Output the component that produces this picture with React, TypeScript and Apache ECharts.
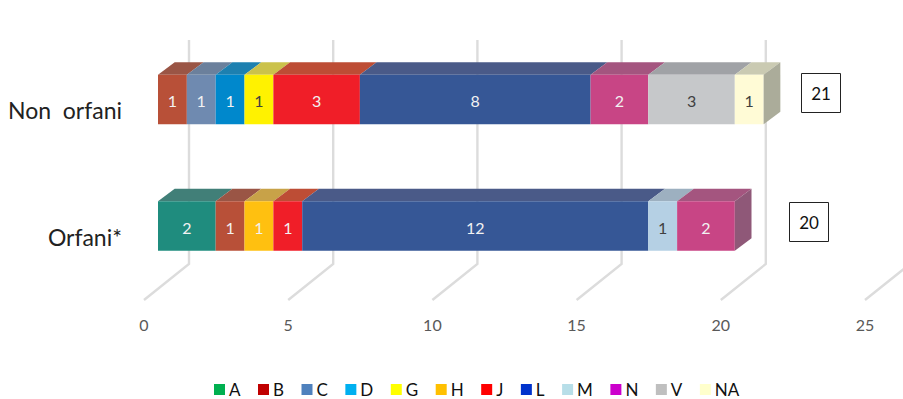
import React, { useEffect, useRef } from "react";
import * as echarts from "echarts";

const FONT = "Lato, 'Open Sans', sans-serif";

const categories = ["Non  orfani", "Orfani*"];
const totals = [21, 20];
const ticks = [0, 5, 10, 15, 20, 25];

const codes = ["A", "B", "C", "D", "G", "H", "J", "L", "M", "N", "V", "NA"];
const valuesA = [0, 2];
const valuesB = [1, 1];
const valuesC = [1, 0];
const valuesD = [1, 0];
const valuesG = [1, 0];
const valuesH = [0, 1];
const valuesJ = [3, 1];
const valuesL = [8, 12];
const valuesM = [0, 1];
const valuesN = [2, 2];
const valuesV = [3, 0];
const valuesNA = [1, 0];
const seriesValues = [valuesA, valuesB, valuesC, valuesD, valuesG, valuesH, valuesJ, valuesL, valuesM, valuesN, valuesV, valuesNA];

const legendColors = ["#00B050", "#C00000", "#4F81BD", "#00B0F0", "#FFFF00", "#FFC000", "#FF0000", "#0033CC", "#B7DEE8", "#CC00CC", "#BFBFBF", "#FFFFCC"];
const frontColors = ["#1F8C7E", "#B85038", "#6F8AB0", "#0088CC", "#FFF200", "#FFC010", "#F01E28", "#365796", "#B5D0E4", "#C84585", "#C6C8CA", "#FFFBD6"];
const topColors = ["#417F78", "#9A5545", "#6B809C", "#1D80B0", "#CBC24B", "#C8A248", "#BD4D35", "#4A5A88", "#9DB0C0", "#A4557F", "#A0A2A6", "#CACAB2"];
const sideColors = ["#2F7068", "#8A4030", "#55708F", "#106A98", "#B0A830", "#B09030", "#A04030", "#2A4070", "#90A8B8", "#8F5878", "#909298", "#ABAC9A"];
const labelColors = ["#F2F2F2", "#F2F2F2", "#F2F2F2", "#F2F2F2", "#404040", "#F2F2F2", "#F2F2F2", "#F2F2F2", "#404040", "#F2F2F2", "#404040", "#404040"];

// Projection of the pseudo-3D bars relative to the floor's front edge.
const BAR_DX = 14;
const BAR_DY = -10.75;
const BAR_HALF = 24.75;
const DEPTH_X = 16.7;
const DEPTH_Y = 12.5;
const WALL_DX = 45;
const WALL_DY = 36;
const WALL_TOP = 40;

function stackedData(index: number) {
  const rows: number[][] = [];
  categories.forEach((_, cat) => {
    const value = seriesValues[index][cat];
    if (!value) return;
    let start = 0;
    for (let i = 0; i < index; i++) start += seriesValues[i][cat];
    rows.push([start, cat, start + value, value]);
  });
  return rows;
}

function renderBar(index: number) {
  return (_params: any, api: any) => {
    const start = api.value(0);
    const cat = api.value(1);
    const end = api.value(2);
    const value = api.value(3);
    const a = api.coord([start, cat]);
    const b = api.coord([end, cat]);
    const x0 = a[0] + BAR_DX;
    const x1 = b[0] + BAR_DX;
    const yc = a[1] + BAR_DY;
    const top = yc - BAR_HALF;
    const bottom = yc + BAR_HALF;
    const children: any[] = [
      {
        type: "polygon",
        shape: { points: [[x0, top], [x1, top], [x1 + DEPTH_X, top - DEPTH_Y], [x0 + DEPTH_X, top - DEPTH_Y]] },
        style: { fill: topColors[index] },
      },
      {
        type: "rect",
        shape: { x: x0, y: top, width: x1 - x0, height: bottom - top },
        style: { fill: frontColors[index] },
      },
    ];
    if (end === totals[cat]) {
      children.push({
        type: "polygon",
        shape: { points: [[x1, top], [x1 + DEPTH_X, top - DEPTH_Y], [x1 + DEPTH_X, bottom - DEPTH_Y], [x1, bottom]] },
        style: { fill: sideColors[index] },
      });
    }
    children.push({
      type: "text",
      style: {
        text: String(value),
        x: (x0 + x1) / 2,
        y: yc + 1,
        fill: labelColors[index],
        font: `16px ${FONT}`,
        align: "center",
        verticalAlign: "middle",
      },
    });
    return { type: "group", children };
  };
}

function renderWall(_params: any, api: any) {
  const p = api.coord([api.value(0), 0]);
  const x = p[0];
  const y = p[1] + api.value(1);
  return {
    type: "polyline",
    shape: { points: [[x, y], [x + WALL_DX, y - WALL_DY], [x + WALL_DX, WALL_TOP]] },
    style: { fill: "none", stroke: "#DCDCDC", lineWidth: 2.4 },
  };
}

function totalBox(value: number, x: number, y: number) {
  return {
    type: "group",
    x,
    y,
    children: [
      { type: "rect", shape: { x: 0, y: 0, width: 39, height: 39 }, style: { fill: "#FFFFFF", stroke: "#222222", lineWidth: 1 } },
      {
        type: "text",
        style: { text: String(value), x: 19.5, y: 20, fill: "#111111", font: `17px ${FONT}`, align: "center", verticalAlign: "middle" },
      },
    ],
  };
}

export default function App() {
  const ref = useRef<HTMLDivElement>(null);
  useEffect(() => {
    const chart = echarts.init(ref.current!, undefined, { renderer: "svg" });
    const GRID_TOP = 47;
    const GRID_H = 253;
    // Distance from the first category's centre down to the floor's front edge.
    const toFloor = GRID_H - GRID_H / 4;
    chart.setOption({
      animation: false,
      backgroundColor: "#FFFFFF",
      grid: { left: 144, top: GRID_TOP, width: 721, height: GRID_H },
      legend: {
        data: codes,
        left: 214,
        top: 381,
        padding: 0,
        icon: "rect",
        itemWidth: 11,
        itemHeight: 11,
        itemGap: 17.5,
        selectedMode: false,
        textStyle: { fontFamily: FONT, fontSize: 17, color: "#111111", padding: [0, 0, 0, -1] },
      },
      xAxis: {
        type: "value",
        position: "bottom",
        min: 0,
        max: 25,
        interval: 5,
        splitLine: { show: false },
        axisLine: { show: false },
        axisTick: { show: false },
        axisLabel: { color: "#595959", fontFamily: FONT, fontSize: 16, margin: 16, hideOverlap: false },
      },
      yAxis: {
        type: "category",
        inverse: true,
        data: categories,
        axisLine: { show: false },
        axisTick: { show: false },
        axisLabel: { color: "#222222", fontFamily: FONT, fontSize: 23, margin: 22 },
      },
      graphic: [totalBox(totals[0], 801.5, 73.5), totalBox(totals[1], 789.5, 202.5)],
      series: [
        {
          type: "custom",
          name: "walls",
          z: 1,
          silent: true,
          renderItem: renderWall,
          encode: { x: 0 },
          data: ticks.map((t) => [t, toFloor]),
        },
        ...codes.map((code, i) => ({
          type: "custom",
          name: code,
          z: 2 + i,
          itemStyle: { color: legendColors[i] },
          renderItem: renderBar(i),
          encode: { x: [0, 2], y: 1 },
          data: stackedData(i),
        })),
      ],
    });
    return () => chart.dispose();
  }, []);
  return <div ref={ref} style={{ position: "fixed", left: 0, top: 0, width: 903, height: 399 }} />;
}
